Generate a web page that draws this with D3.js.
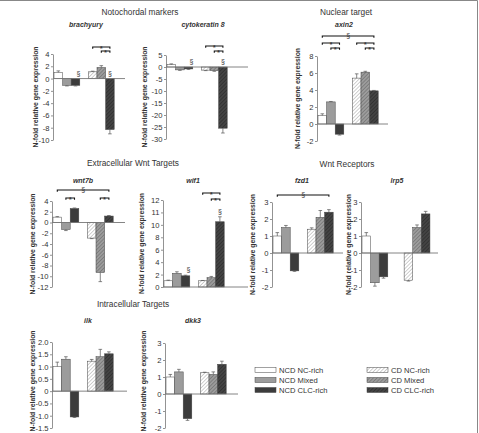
<!DOCTYPE html>
<html>
<head>
<meta charset="utf-8">
<script src="https://cdn.jsdelivr.net/npm/d3@7/dist/d3.min.js"></script>
<style>
  body { margin: 0; background: #fff; }
  text { font-family: "Liberation Sans", Arial, sans-serif; fill: #333; }
</style>
</head>
<body>
<div id="chart"></div>
<script>
// groups (legend order)
const groups = ["NCD NC-rich", "NCD Mixed", "NCD CLC-rich", "CD NC-rich", "CD Mixed", "CD CLC-rich"];

// mean n-fold expression per group, and error (drawn away from zero)
const brachyury = [1.0, -1.1, -1.1, 1.1, 1.8, -8.3];
const brachyuryErr = [0.25, 0.1, 0.1, 0.1, 0.3, 0.7];
const cytokeratin8 = [1.0, -1.2, -0.8, -1.3, -1.5, -25.5];
const cytokeratin8Err = [0.3, 0.2, 0.2, 0.2, 0.3, 2.0];
const axin2 = [1.0, 2.6, -1.2, 5.4, 6.1, 3.9];
const axin2Err = [0.2, 0.05, 0.1, 0.5, 0.1, 0.05];
const wnt7b = [1.0, -1.3, 2.6, -2.9, -9.3, 1.2];
const wnt7bErr = [0.1, 0.2, 0.1, 0.1, 1.7, 0.1];
const wif1 = [1.0, 2.2, 1.8, 1.0, 1.5, 10.5];
const wif1Err = [0.1, 0.25, 0.1, 0.05, 0.2, 0.8];
const fzd1 = [1.0, 1.5, -1.05, 1.4, 2.1, 2.4];
const fzd1Err = [0.2, 0.12, 0.03, 0.08, 0.4, 0.15];
const lrp5 = [1.0, -1.75, -1.4, -1.6, 1.5, 2.3];
const lrp5Err = [0.2, 0.2, 0.08, 0.05, 0.15, 0.15];
const ilk = [1.0, 1.3, -1.05, 1.22, 1.4, 1.52];
const ilkErr = [0.18, 0.1, 0.02, 0.07, 0.3, 0.08];
const dkk3 = [1.0, 1.3, -1.45, 1.25, 1.15, 1.75];
const dkk3Err = [0.15, 0.15, 0.1, 0.03, 0.15, 0.18];

// y tick values (and printed labels where they differ)
const brachyuryTicks = [4, 2, 0, -2, -4, -6, -8, -10];
const cytokeratin8Ticks = [5, 0, -5, -10, -15, -20, -25, -30];
const axin2Ticks = [8, 6, 4, 2, 0, -2];
const wnt7bTicks = [4, 2, 0, -2, -4, -6, -8, -10, -12];
const wif1Ticks = [14, 12, 10, 8, 6, 4, 2, 0];
const wif1TickLabels = ["12", "11", "10", "8", "6", "4", "2", "0"];
const receptorTicks = [3, 2, 1, 0, -1, -2];
const ilkTicks = [2, 1.5, 1, 0.5, 0, -0.5, -1, -1.5];
const dkk3Ticks = [3, 2, 1, 0, -1, -2];

// section headings
const headings = ["Notochordal markers", "Nuclear target", "Extracellular Wnt Targets", "Wnt Receptors", "Intracellular Targets"];

const W = 479, H = 433;
const slotW = 8.6;

const svg = d3.select("#chart").append("svg")
    .attr("width", W)
    .attr("height", H);

// fills: plain for NCD, hatched for CD
const defs = svg.append("defs");
const hatch = [
    { id: "h0", bg: "#ffffff", line: "#b0b0b0" },
    { id: "h1", bg: "#9c9c9c", line: "#6a6a6a" },
    { id: "h2", bg: "#444444", line: "#2a2a2a" }
];
hatch.forEach(h => {
    const p = defs.append("pattern")
        .attr("id", h.id)
        .attr("patternUnits", "userSpaceOnUse")
        .attr("width", 2.6)
        .attr("height", 2.6)
        .attr("patternTransform", "rotate(45)");
    p.append("rect").attr("width", 2.6).attr("height", 2.6).attr("fill", h.bg);
    p.append("line").attr("x1", 0).attr("y1", 0).attr("x2", 0).attr("y2", 2.6)
        .attr("stroke", h.line).attr("stroke-width", 1.2);
});
const fills = ["#ffffff", "#9c9c9c", "#3c3c3c", "url(#h0)", "url(#h1)", "url(#h2)"];

// frame
svg.append("path")
    .attr("d", `M0,0.5H477.5V${H}`)
    .attr("fill", "none")
    .attr("stroke", "#888");

// headings
const headingPos = [[140, 15], [346, 15], [133, 166], [347, 167], [133, 307]];
svg.append("g").selectAll("text")
    .data(headings)
    .enter().append("text")
    .attr("x", (d, i) => headingPos[i][0])
    .attr("y", (d, i) => headingPos[i][1])
    .attr("text-anchor", "middle")
    .style("font-size", "8.3px")
    .text(d => d);

const panels = [
    { gene: "brachyury", values: brachyury, err: brachyuryErr, ticks: brachyuryTicks,
      axisX: 53, top: 54, bottom: 140, xEnd: 125, titleX: 86, titleY: 27, labelX: 36, gap: 1,
      brackets: [{ a: 3, b: 5, y: 47, t: "*" }, { a: 4, b: 5, y: 51, t: "*" }], sect: [2, 5] },
    { gene: "cytokeratin 8", values: cytokeratin8, err: cytokeratin8Err, ticks: cytokeratin8Ticks,
      axisX: 166, top: 55, bottom: 139, xEnd: 248, titleX: 203, titleY: 27, labelX: 145, gap: 1,
      brackets: [{ a: 3, b: 5, y: 46, t: "*" }, { a: 4, b: 5, y: 51, t: "*" }], sect: [2, 5] },
    { gene: "axin2", values: axin2, err: axin2Err, ticks: axin2Ticks,
      axisX: 317, top: 56, bottom: 141, xEnd: 388, titleX: 344, titleY: 27, labelX: 298, gap: 1,
      brackets: [{ a: 0, b: 5, y: 36, t: "§" }, { a: 0, b: 2, y: 43, t: "*" }, { a: 1, b: 2, y: 48, t: "*" },
                 { a: 3, b: 5, y: 43, t: "*" }, { a: 4, b: 5, y: 48, t: "*" }], sect: [] },
    { gene: "wnt7b", values: wnt7b, err: wnt7bErr, ticks: wnt7bTicks,
      axisX: 52, top: 201, bottom: 287, xEnd: 125, titleX: 83, titleY: 183, labelX: 33, gap: 1,
      brackets: [{ a: 0, b: 5, y: 190, t: "§" }, { a: 1, b: 2, y: 198, t: "*" }, { a: 4, b: 5, y: 198, t: "*" }], sect: [] },
    { gene: "wif1", values: wif1, err: wif1Err, ticks: wif1Ticks, tickLabels: wif1TickLabels,
      axisX: 163, top: 200, bottom: 287, xEnd: 248, titleX: 193, titleY: 183, labelX: 142, gap: 1,
      brackets: [{ a: 3, b: 5, y: 193, t: "*" }, { a: 4, b: 5, y: 199, t: "*" }], sect: [2, 5] },
    { gene: "fzd1", values: fzd1, err: fzd1Err, ticks: receptorTicks,
      axisX: 272, top: 202, bottom: 287, xEnd: 343, titleX: 302, titleY: 183, labelX: 253, gap: 1,
      brackets: [{ a: 0, b: 5, y: 195, t: "§" }], sect: [] },
    { gene: "lrp5", values: lrp5, err: lrp5Err, ticks: receptorTicks,
      axisX: 361, top: 202, bottom: 287, xEnd: 438, titleX: 397, titleY: 183, labelX: 349, gap: 1.9,
      brackets: [], sect: [] },
    { gene: "ilk", values: ilk, err: ilkErr, ticks: ilkTicks,
      axisX: 52, top: 342, bottom: 428, xEnd: 127, titleX: 88, titleY: 323, labelX: 33, labelY: 381, gap: 1,
      brackets: [], sect: [] },
    { gene: "dkk3", values: dkk3, err: dkk3Err, ticks: dkk3Ticks,
      axisX: 165, top: 343, bottom: 428, xEnd: 238, titleX: 193, titleY: 323, labelX: 144, labelY: 381, gap: 1,
      brackets: [], sect: [] }
];

panels.forEach(drawPanel);

function drawPanel(p) {
    const g = svg.append("g").attr("class", "panel");
    const y = d3.scaleLinear().domain(d3.extent(p.ticks)).range([p.bottom, p.top]);
    const nSlots = 6 + p.gap;
    // slot index -> left edge of bar; CD group shifted by the gap
    const x = d3.scaleLinear()
        .domain([0, nSlots])
        .range([p.axisX + 1, p.axisX + 1 + slotW * nSlots]);
    const left = i => x(i < 3 ? i : i + p.gap);
    const cx = i => left(i) + slotW / 2;
    const dec = p.ticks.some(t => t % 1 !== 0);
    const fmt = p.tickLabels
        ? (d => p.tickLabels[p.ticks.indexOf(d)])
        : (d => (dec && d !== 0 ? d.toFixed(1) : String(d)));

    // y axis
    const ax = g.append("g")
        .attr("transform", `translate(${p.axisX},0)`)
        .call(d3.axisLeft(y)
            .tickValues(p.ticks)
            .tickSize(2)
            .tickSizeOuter(0)
            .tickPadding(1.5)
            .tickFormat(fmt));
    ax.select(".domain").attr("stroke", "#777").attr("stroke-width", 0.8);
    ax.selectAll(".tick line").attr("stroke", "#777").attr("stroke-width", 0.8);
    ax.selectAll(".tick text")
        .attr("fill", "#333")
        .style("font-family", "'Liberation Sans', Arial, sans-serif")
        .style("font-size", "7.6px");

    // y label
    g.append("text")
        .attr("transform", `translate(${p.labelX},${p.labelY || (p.top + p.bottom) / 2}) rotate(-90)`)
        .attr("dy", "0.35em")
        .attr("text-anchor", "middle")
        .style("font-size", "6.8px")
        .style("font-weight", "bold")
        .text("N-fold relative gene expression");

    // gene title
    g.append("text")
        .attr("x", p.titleX)
        .attr("y", p.titleY)
        .attr("text-anchor", "middle")
        .style("font-size", "7px")
        .style("font-weight", "bold")
        .style("font-style", "italic")
        .text(p.gene);

    // bars
    g.append("g").selectAll("rect")
        .data(p.values)
        .enter().append("rect")
        .attr("x", (d, i) => left(i))
        .attr("width", slotW)
        .attr("y", d => Math.min(y(d), y(0)))
        .attr("height", d => Math.abs(y(d) - y(0)))
        .attr("fill", (d, i) => fills[i])
        .attr("stroke", "#444")
        .attr("stroke-width", 0.5);

    // zero line
    g.append("line")
        .attr("x1", p.axisX).attr("x2", p.xEnd)
        .attr("y1", y(0)).attr("y2", y(0))
        .attr("stroke", "#777")
        .attr("stroke-width", 0.9);

    // error bars
    const eb = g.append("g").attr("stroke", "#555").attr("stroke-width", 0.7);
    p.values.forEach((v, i) => {
        const e = v >= 0 ? v + p.err[i] : v - p.err[i];
        eb.append("line").attr("x1", cx(i)).attr("x2", cx(i)).attr("y1", y(v)).attr("y2", y(e));
        eb.append("line").attr("x1", cx(i) - 1.8).attr("x2", cx(i) + 1.8).attr("y1", y(e)).attr("y2", y(e));
    });

    // § markers over bars
    g.append("g").selectAll("text")
        .data(p.sect)
        .enter().append("text")
        .attr("x", i => cx(i) + (i === 2 ? 3 : 0))
        .attr("y", i => {
            const v = p.values[i];
            return (v >= 0 ? y(v + p.err[i]) : y(0)) - 3;
        })
        .attr("text-anchor", "middle")
        .style("font-size", "7px")
        .text("§");

    // significance brackets
    const br = g.append("g");
    p.brackets.forEach(b => {
        const x1 = cx(b.a), x2 = cx(b.b);
        br.append("path")
            .attr("d", `M${x1},${b.y + 1.8}V${b.y}H${x2}V${b.y + 1.8}`)
            .attr("fill", "none")
            .attr("stroke", "#111")
            .attr("stroke-width", 1.1);
        br.append("text")
            .attr("x", (x1 + x2) / 2)
            .attr("y", b.y + (b.t === "*" ? 3.6 : 2.2))
            .attr("text-anchor", "middle")
            .style("font-size", b.t === "*" ? "6.5px" : "7px")
            .style("font-weight", b.t === "*" ? "bold" : "normal")
            .text(b.t);
    });
}

// legend
const legendPos = [[255, 370], [255, 380], [255, 390], [367, 370], [367, 380], [367, 390]];
const legend = svg.append("g").selectAll("g")
    .data(groups)
    .enter().append("g")
    .attr("transform", (d, i) => `translate(${legendPos[i][0]},${legendPos[i][1]})`);
legend.append("rect")
    .attr("x", 0).attr("y", -2.5)
    .attr("width", 21).attr("height", 5)
    .attr("fill", (d, i) => fills[i])
    .attr("stroke", "#444")
    .attr("stroke-width", 0.5);
legend.append("text")
    .attr("x", 24)
    .attr("dy", "0.35em")
    .style("font-size", "7.6px")
    .text(d => d);
</script>
</body>
</html>
